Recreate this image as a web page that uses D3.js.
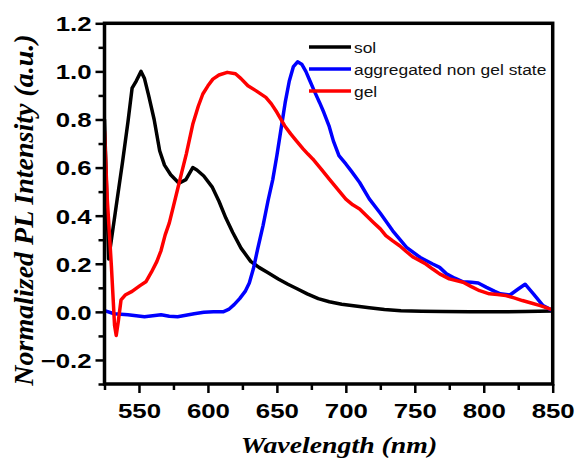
<!DOCTYPE html>
<html>
<head>
<meta charset="utf-8">
<script src="https://cdn.jsdelivr.net/npm/d3@7"></script>
<style>
  html, body { margin: 0; padding: 0; background: #fff; }
  svg { display: block; }
</style>
</head>
<body>
<svg id="chart" width="579" height="462"></svg>
<script>
// ---------- data ----------
const seriesNames = ["sol", "aggregated non gel state", "gel"];
const seriesColors = ["#000000", "#0000ff", "#ff0000"];

const solWavelength = [525, 528, 533, 538, 542, 545, 548, 551.5, 554, 557, 561, 565, 568.5, 573, 579, 584, 589, 592, 597, 603, 608, 613, 618, 624, 631, 637, 643, 651, 658, 665, 672, 680, 688, 697, 707, 717, 728, 740, 755, 770, 790, 810, 830, 850];
const solValues     = [0.80, 0.22, 0.42, 0.62, 0.79, 0.93, 0.96, 1.00, 0.97, 0.90, 0.80, 0.67, 0.61, 0.57, 0.535, 0.55, 0.60, 0.59, 0.565, 0.52, 0.46, 0.39, 0.33, 0.265, 0.21, 0.185, 0.165, 0.137, 0.115, 0.095, 0.075, 0.055, 0.042, 0.032, 0.024, 0.017, 0.010, 0.005, 0.003, 0.001, 0.0, 0.0, 0.001, 0.004];

const aggWavelength = [525, 532, 542, 554, 560, 566, 572, 578, 584, 590, 597, 604, 611, 615, 619, 623, 627, 630, 633, 636, 640, 643.5, 647, 650, 653, 656, 659, 662, 665, 668, 671, 674, 677, 681, 684, 688, 691, 695, 700, 704, 710, 717, 725, 734, 744, 754, 763, 768, 773, 779, 785, 791, 796, 802, 808, 812, 819, 825, 830, 836, 843, 850];
const aggValues     = [0.005, -0.008, -0.012, -0.02, -0.016, -0.012, -0.018, -0.02, -0.014, -0.008, -0.002, 0.0, 0.0, 0.01, 0.03, 0.055, 0.085, 0.12, 0.18, 0.26, 0.36, 0.46, 0.55, 0.65, 0.76, 0.87, 0.96, 1.02, 1.04, 1.03, 1.0, 0.96, 0.92, 0.87, 0.83, 0.77, 0.71, 0.65, 0.615, 0.585, 0.538, 0.47, 0.41, 0.337, 0.268, 0.226, 0.199, 0.185, 0.158, 0.14, 0.125, 0.123, 0.12, 0.102, 0.085, 0.075, 0.07, 0.095, 0.115, 0.075, 0.026, 0.005];

const gelWavelength = [525, 527, 530, 532.3, 533.5, 535, 537, 540, 545, 551, 555, 559, 563, 566, 569, 572, 575, 578, 581, 584.3, 589, 593, 596.3, 600, 603.6, 608, 614, 620, 624, 629, 635, 642, 646, 650, 655.6, 660, 664, 669, 672.5, 676, 682, 688, 694, 700, 705, 710, 715, 720, 725, 729, 734, 739, 744, 749, 754, 758, 763, 768, 775, 785, 791, 797, 804, 810, 816, 822, 828, 835, 841, 850];
const gelValues     = [0.75, 0.47, 0.19, -0.057, -0.098, -0.04, 0.05, 0.07, 0.085, 0.11, 0.125, 0.165, 0.21, 0.255, 0.32, 0.37, 0.44, 0.51, 0.58, 0.656, 0.78, 0.855, 0.906, 0.94, 0.968, 0.985, 0.996, 0.99, 0.97, 0.94, 0.919, 0.892, 0.865, 0.83, 0.774, 0.74, 0.712, 0.678, 0.656, 0.636, 0.595, 0.552, 0.51, 0.469, 0.445, 0.428, 0.40, 0.372, 0.345, 0.317, 0.295, 0.275, 0.25, 0.227, 0.212, 0.199, 0.178, 0.158, 0.137, 0.123, 0.105, 0.088, 0.075, 0.072, 0.068, 0.058, 0.047, 0.036, 0.026, 0.008];

const xTickValues = [550, 600, 650, 700, 750, 800, 850];
const xMinorTicks = [525, 575, 625, 675, 725, 775, 825];
const yTickValues = [-0.2, 0.0, 0.2, 0.4, 0.6, 0.8, 1.0, 1.2];
const yMinorTicks = [-0.3, -0.1, 0.1, 0.3, 0.5, 0.7, 0.9, 1.1];

const xTitle = "Wavelength (nm)";
const yTitle = "Normalized PL Intensity (a.u.)";

// ---------- layout ----------
const svg = d3.select("#chart");
const pLeft = 104.5, pRight = 552.7, pTop = 23.3, pBottom = 384;
const stretch = 1.23;

const x = d3.scaleLinear().domain([525, 850]).range([pLeft, pRight]);
const y = d3.scaleLinear().domain([-0.3, 1.2]).range([pBottom, pTop]);

svg.append("defs").append("clipPath").attr("id", "clip")
  .append("rect").attr("x", pLeft).attr("y", pTop).attr("width", pRight - pLeft).attr("height", pBottom - pTop);

// series
const series = [
  {w: solWavelength, v: solValues},
  {w: aggWavelength, v: aggValues},
  {w: gelWavelength, v: gelValues}
];
const line = d3.line().x(d => x(d[0])).y(d => y(d[1]));
const plot = svg.append("g").attr("clip-path", "url(#clip)");
series.forEach((s, i) => {
  plot.append("path")
    .datum(s.w.map((w, k) => [w, s.v[k]]))
    .attr("d", line)
    .attr("fill", "none")
    .attr("stroke", seriesColors[i])
    .attr("stroke-width", 3.5)
    .attr("stroke-linejoin", "round")
    .attr("stroke-linecap", "round");
});

// axes
const fontTick = "'Liberation Sans', Arial, sans-serif";
const xAxis = svg.append("g").attr("transform", `translate(0,${pBottom})`)
  .call(d3.axisBottom(x).tickValues(xTickValues).tickSize(9).tickFormat(d3.format("d")));
const xMinor = svg.append("g").attr("transform", `translate(0,${pBottom})`)
  .call(d3.axisBottom(x).tickValues(xMinorTicks).tickSize(6).tickFormat(""));
const yAxis = svg.append("g").attr("transform", `translate(${pLeft},0)`)
  .call(d3.axisLeft(y).tickValues(yTickValues).tickSize(9).tickFormat(d3.format(".1f")));
const yMinor = svg.append("g").attr("transform", `translate(${pLeft},0)`)
  .call(d3.axisLeft(y).tickValues(yMinorTicks).tickSize(6).tickFormat(""));

[xAxis, xMinor, yAxis, yMinor].forEach(g => {
  g.select(".domain").remove();
  g.selectAll(".tick line").attr("stroke", "#000").attr("stroke-width", 2.5);
});
xAxis.selectAll(".tick text")
  .attr("y", 19).attr("dy", "0.71em")
  .attr("font-family", fontTick).attr("font-weight", "bold").attr("font-size", 21)
  .attr("fill", "#000")
  .attr("transform", `scale(${stretch},1)`);
yAxis.selectAll(".tick text")
  .attr("x", -10.5).attr("dy", "0.35em")
  .attr("font-family", fontTick).attr("font-weight", "bold").attr("font-size", 21)
  .attr("fill", "#000")
  .attr("transform", `scale(${stretch},1)`);

// frame
svg.append("rect")
  .attr("x", pLeft).attr("y", pTop).attr("width", pRight - pLeft).attr("height", pBottom - pTop)
  .attr("fill", "none").attr("stroke", "#000").attr("stroke-width", 3.5);

// titles
const fontTitle = "'Liberation Serif', 'Times New Roman', serif";
svg.append("text")
  .attr("transform", `translate(339,453) scale(${stretch},1)`)
  .attr("text-anchor", "middle")
  .attr("font-family", fontTitle).attr("font-weight", "bold").attr("font-style", "italic")
  .attr("font-size", 22.6).attr("fill", "#000")
  .text(xTitle);
svg.append("text")
  .attr("transform", `translate(33,210) rotate(-90)`)
  .attr("text-anchor", "middle")
  .attr("font-family", fontTitle).attr("font-weight", "bold").attr("font-style", "italic")
  .attr("font-size", 28).attr("fill", "#000")
  .text(yTitle);

// legend
const legend = svg.append("g");
seriesNames.forEach((name, i) => {
  const ly = 47 + i * 22;
  legend.append("line")
    .attr("x1", 309).attr("x2", 351).attr("y1", ly).attr("y2", ly)
    .attr("stroke", seriesColors[i]).attr("stroke-width", 3.5);
  legend.append("text")
    .attr("transform", `translate(354,${ly + 6}) scale(1.2,1)`)
    .attr("font-family", fontTick).attr("font-size", 14.5).attr("fill", "#111")
    .text(name);
});
</script>
</body>
</html>
